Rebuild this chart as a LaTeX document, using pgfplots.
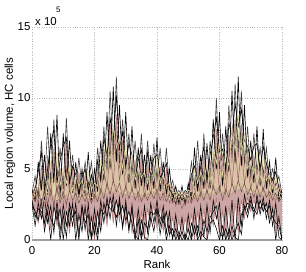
\documentclass[border=0pt]{standalone}
\usepackage{pgfplots}
\pgfplotsset{compat=1.18}
\usepackage{pgfplotstable}
\usepgfplotslibrary{fillbetween}
\usepackage{fontspec}
\setmainfont{Liberation Sans}
\definecolor{mpink}{RGB}{175,115,115}
\definecolor{mpinkfill}{RGB}{190,135,135}
\definecolor{myel}{RGB}{232,224,168}
\definecolor{mgray}{RGB}{70,60,60}
\pgfplotstableread{
x s1 s2 s3 s4 s5 s6 s7 s8 s9 s10 s11 s12
0 3.5 2.5 3.2 2.8 3.0 3.1 2.9 3.3 3.0 2.8 3.0 2.6
1 2.8 1.0 3.8 2.0 3.5 2.7 3.2 4.5 3.6 1.6 3.4 2.0
2 5.5 2.6 3.0 1.2 4.2 3.4 2.8 3.0 4.8 2.2 2.6 1.4
3 3.5 1.5 5.2 2.4 3.0 2.6 3.3 7.0 6.2 2.0 4.2 2.8
4 6.0 3.0 3.4 1.0 4.8 3.5 2.7 3.8 3.4 1.2 2.8 0.6
5 3.2 1.2 6.0 2.2 3.6 2.5 3.4 8.0 5.0 2.6 4.6 2.0
6 7.5 2.4 3.8 0.8 5.5 3.6 2.9 4.0 6.8 1.5 3.0 0.0
7 4.0 0.5 6.5 2.6 3.2 2.4 3.1 8.5 7.8 1.0 5.4 2.4
8 8.8 2.8 4.2 1.0 6.2 3.8 2.6 4.4 4.0 2.2 3.2 1.4
9 3.0 0.6 5.0 2.0 3.8 2.6 3.3 6.5 5.6 0.0 4.4 2.2
10 7.5 2.5 3.5 0.8 5.0 3.4 2.8 3.6 6.6 1.8 2.8 0.0
11 3.8 1.0 6.8 2.5 4.0 2.5 3.2 8.6 7.2 0.2 5.0 2.0
12 7.0 2.2 3.6 0.5 5.4 3.5 2.9 4.0 4.0 2.6 3.4 1.0
13 3.3 1.0 5.0 2.4 3.5 2.8 3.1 6.0 5.2 1.6 4.0 2.6
14 5.5 2.6 3.2 0.8 4.5 3.3 2.7 3.5 4.6 2.0 2.6 0.0
15 3.0 0.4 4.8 2.0 3.8 2.6 3.2 5.8 3.2 0.0 4.2 1.8
16 5.0 2.4 3.4 1.0 4.2 3.2 2.8 3.6 4.4 2.4 3.0 0.6
17 3.1 0.7 4.6 2.2 3.4 2.7 3.3 5.5 5.0 1.2 3.8 2.4
18 6.2 2.5 3.6 0.5 4.8 3.4 2.9 3.8 3.5 1.8 2.4 0.0
19 2.8 0.2 4.5 1.8 3.5 2.6 3.0 5.5 4.6 0.0 4.0 1.6
20 5.0 2.2 3.0 0.0 4.0 3.2 2.8 3.4 3.8 1.2 2.8 0.4
21 3.4 0.5 5.2 2.0 3.8 2.7 3.2 6.5 5.6 0.0 4.4 2.0
22 7.0 2.8 4.0 1.0 5.6 3.6 3.0 4.2 4.2 2.2 3.2 0.6
23 4.2 1.2 6.4 2.6 4.6 2.9 3.4 8.0 7.2 1.8 5.0 2.6
24 9.0 3.0 4.8 1.0 7.0 4.0 3.2 5.0 6.0 2.6 3.6 1.6
25 5.0 1.5 8.2 3.0 5.5 3.2 3.6 10.5 8.6 2.2 6.2 3.0
26 10.8 3.2 5.5 1.2 8.0 4.2 3.3 6.0 7.0 2.0 4.0 2.2
27 5.5 1.0 8.8 2.8 6.5 3.4 3.8 11.5 10.2 2.8 6.8 1.6
28 9.5 3.0 5.0 1.3 7.2 4.0 3.2 5.4 6.4 1.8 4.2 2.6
29 4.6 0.8 7.0 2.5 5.0 3.0 3.5 8.5 7.6 2.4 5.6 1.0
30 9.0 2.8 4.6 1.0 6.8 3.8 3.1 5.0 5.2 1.4 3.6 2.4
31 4.0 0.6 6.0 2.2 4.5 2.9 3.4 7.5 6.8 2.0 5.0 0.8
32 8.0 2.5 4.2 0.5 6.0 3.6 3.0 4.6 6.0 1.2 3.4 2.2
33 3.6 0.2 5.6 2.0 4.2 2.8 3.3 7.0 4.2 0.0 4.6 0.4
34 6.5 2.2 3.8 0.0 5.2 3.4 2.9 4.0 5.6 1.4 2.8 0.0
35 3.8 0.3 6.0 2.0 4.4 2.7 3.2 7.5 6.4 0.0 4.8 1.4
36 6.0 2.4 3.6 0.0 4.8 3.3 2.8 3.8 4.0 1.2 3.0 0.2
37 3.5 0.5 5.6 2.2 4.0 2.8 3.3 7.0 6.2 0.8 4.2 0.0
38 6.0 2.6 3.8 1.0 5.0 3.4 3.0 4.0 4.6 2.0 3.2 1.6
39 3.6 1.2 5.4 2.5 4.2 2.9 3.4 6.8 5.8 1.8 4.6 0.6
40 7.2 2.8 4.0 0.8 5.8 3.6 3.1 4.2 6.0 2.2 3.0 2.2
41 3.4 1.0 5.2 2.4 4.0 2.8 3.3 6.5 4.4 1.6 4.4 0.4
42 5.5 2.4 3.5 0.6 4.6 3.3 2.9 3.8 4.8 1.2 2.8 1.8
43 3.2 0.5 5.0 2.0 3.8 2.7 3.2 6.5 5.4 2.0 4.0 0.0
44 5.0 2.0 3.2 0.2 4.0 3.2 2.8 3.5 3.6 0.4 2.6 1.0
45 2.8 0.0 3.8 1.6 3.3 2.6 3.0 4.2 3.2 0.8 3.4 0.2
46 3.8 1.8 3.0 0.1 3.4 3.0 2.7 3.2 2.6 0.0 2.4 0.8
47 2.6 0.0 3.3 1.4 3.0 2.5 2.9 3.5 3.2 0.6 3.0 0.0
48 3.8 1.6 2.9 0.2 3.4 3.0 2.7 3.1 2.8 0.0 2.2 0.6
49 2.5 0.0 3.4 1.5 3.0 2.6 3.0 3.5 3.0 0.4 2.8 0.0
50 4.0 1.8 3.0 0.5 3.5 3.1 2.8 3.3 3.4 0.0 2.6 0.8
51 2.9 0.2 4.5 1.8 3.4 2.6 3.1 5.5 4.6 1.2 3.6 0.0
52 6.5 2.2 3.5 0.0 5.0 3.3 2.8 3.8 5.2 0.4 2.8 1.0
53 3.4 0.3 5.5 2.0 4.0 2.7 3.2 7.0 3.6 1.0 4.4 0.0
54 6.0 2.4 3.6 0.0 4.8 3.4 2.9 3.9 5.2 0.0 3.0 0.6
55 3.6 0.2 6.0 2.2 4.2 2.8 3.3 7.5 6.6 1.4 4.8 0.2
56 6.8 2.5 3.8 0.0 5.4 3.5 3.0 4.0 4.2 0.6 3.2 0.0
57 3.6 0.5 5.6 2.2 4.0 2.8 3.3 7.0 6.0 1.6 4.4 1.2
58 8.5 2.8 4.4 1.0 6.6 3.8 3.1 4.8 7.2 2.0 3.6 1.4
59 5.0 1.5 7.8 3.0 5.4 3.2 3.6 10.0 8.6 2.4 6.0 0.8
60 9.0 2.6 4.6 0.2 7.0 3.8 3.2 5.0 6.2 0.6 3.4 0.0
61 3.8 0.0 6.0 2.0 4.5 2.8 3.4 7.5 6.4 0.2 4.8 1.0
62 8.0 2.4 4.2 0.0 6.2 3.6 3.0 4.6 5.0 0.8 3.2 0.0
63 4.8 0.2 7.4 2.4 5.2 3.0 3.5 9.5 8.2 0.0 5.8 0.8
64 10.5 2.8 5.4 0.0 8.0 4.0 3.2 5.8 7.4 1.0 3.8 0.0
65 5.4 0.0 8.6 2.6 6.2 3.3 3.8 11.0 9.6 0.2 6.6 0.6
66 11.5 3.0 5.8 0.5 8.8 4.2 3.4 6.2 8.0 0.0 4.2 1.2
67 5.2 1.0 8.2 2.8 6.0 3.4 3.8 10.5 9.2 1.8 6.4 0.4
68 9.5 3.2 5.2 1.5 7.4 4.0 3.3 5.4 7.0 2.2 4.0 2.4
69 4.4 2.0 6.4 3.0 5.0 3.2 3.6 8.0 6.6 2.6 5.2 1.6
70 7.0 3.2 4.2 2.0 5.6 3.7 3.1 4.4 5.6 2.4 3.6 2.8
71 4.0 1.5 6.0 2.8 4.6 3.0 3.5 7.5 6.6 2.0 4.8 2.2
72 8.0 3.2 4.6 2.0 6.2 3.8 3.2 4.8 6.8 2.8 3.6 1.8
73 3.8 1.8 5.4 2.8 4.2 3.0 3.4 6.5 5.0 2.2 4.6 2.8
74 7.8 3.0 4.4 2.0 6.0 3.7 3.1 4.6 6.6 2.6 3.4 2.0
75 3.6 1.5 5.4 2.6 4.2 3.0 3.4 6.5 5.4 2.0 4.4 2.6
76 5.5 2.8 3.8 1.5 4.6 3.4 3.0 4.0 4.6 2.4 3.0 1.2
77 3.2 1.0 4.4 2.4 3.6 2.8 3.3 5.0 4.2 1.6 3.8 2.2
78 5.8 2.6 3.5 0.5 4.5 3.3 2.9 3.8 4.8 1.2 2.8 0.0
79 2.8 0.2 4.0 1.8 3.4 2.7 3.1 4.5 3.6 1.0 3.4 1.6
80 3.5 0.0 3.0 0.0 3.2 3.0 2.8 3.2 3.0 0.0 3.0 0.0
}\data
\begin{document}
\begin{tikzpicture}
\begin{axis}[
  scale only axis,
  width=250bp, height=213bp,
  xmin=0, xmax=80, ymin=0, ymax=15,
  xtick={0,20,40,60,80},
  ytick={0,5,10,15},
  grid=major,
  major grid style={gray!55, dotted, line width=0.45pt},
  axis x line*=bottom,
  axis y line*=left,
  x axis line style={gray!75, line width=1.3pt, -},
  y axis line style={draw=none},
  tick style={draw=none},
  tick label style={font=\fontsize{11.5}{13}\selectfont},
  label style={font=\fontsize{11.5}{13}\selectfont},
  /pgf/number format/assume math mode=true,
  xlabel={Rank},
  ylabel={Local region volume, HC cells},
  xlabel style={at={(axis description cs:0.5,-0.113)}, anchor=center},
  ylabel style={at={(axis description cs:-0.088,0.5)}, anchor=center},
  xticklabel style={anchor=center, yshift=-11bp},
  yticklabel style={xshift=2pt},
  clip=true,
]
\addplot[mpink, line width=0.4pt, name path=A] table[x=x, y=s3] {\data};
\addplot[mpink, line width=0.4pt, name path=B] table[x=x, y=s4] {\data};
\addplot[mpinkfill, opacity=0.75] fill between[of=A and B];
\addplot[myel, line width=0.4pt, name path=C] table[x=x, y=s5] {\data};
\addplot[mpink, line width=0.4pt, name path=D] table[x=x, y=s7] {\data};
\addplot[myel, opacity=0.5] fill between[of=C and D];
\addplot[mpink!80!black, line width=0.45pt] table[x=x, y=s11] {\data};
\addplot[mgray, line width=0.6pt] table[x=x, y=s8] {\data};
\addplot[black, line width=0.6pt] table[x=x, y=s1] {\data};
\addplot[black, line width=0.6pt] table[x=x, y=s9] {\data};
\addplot[black, line width=0.55pt] table[x=x, y=s2] {\data};
\addplot[black, line width=0.55pt] table[x=x, y=s10] {\data};
\addplot[black, line width=0.55pt] table[x=x, y=s12] {\data};
\addplot[mpink!60!black, line width=0.45pt] table[x=x, y=s6] {\data};
\addplot[myel, line width=0.55pt] table[x=x, y=s5] {\data};
\addplot[myel!85!black, line width=0.4pt] table[x=x, y=s7] {\data};
\end{axis}
\node[anchor=base west, inner sep=0pt, font=\fontsize{11.5}{13}\selectfont] at (3bp,214bp) {x 10};
\node[anchor=base west, inner sep=0pt, font=\fontsize{8}{9}\selectfont] at (24bp,227bp) {5};
\path (-32bp,-32bp) rectangle (274bp,240bp);
\end{tikzpicture}
\end{document}
